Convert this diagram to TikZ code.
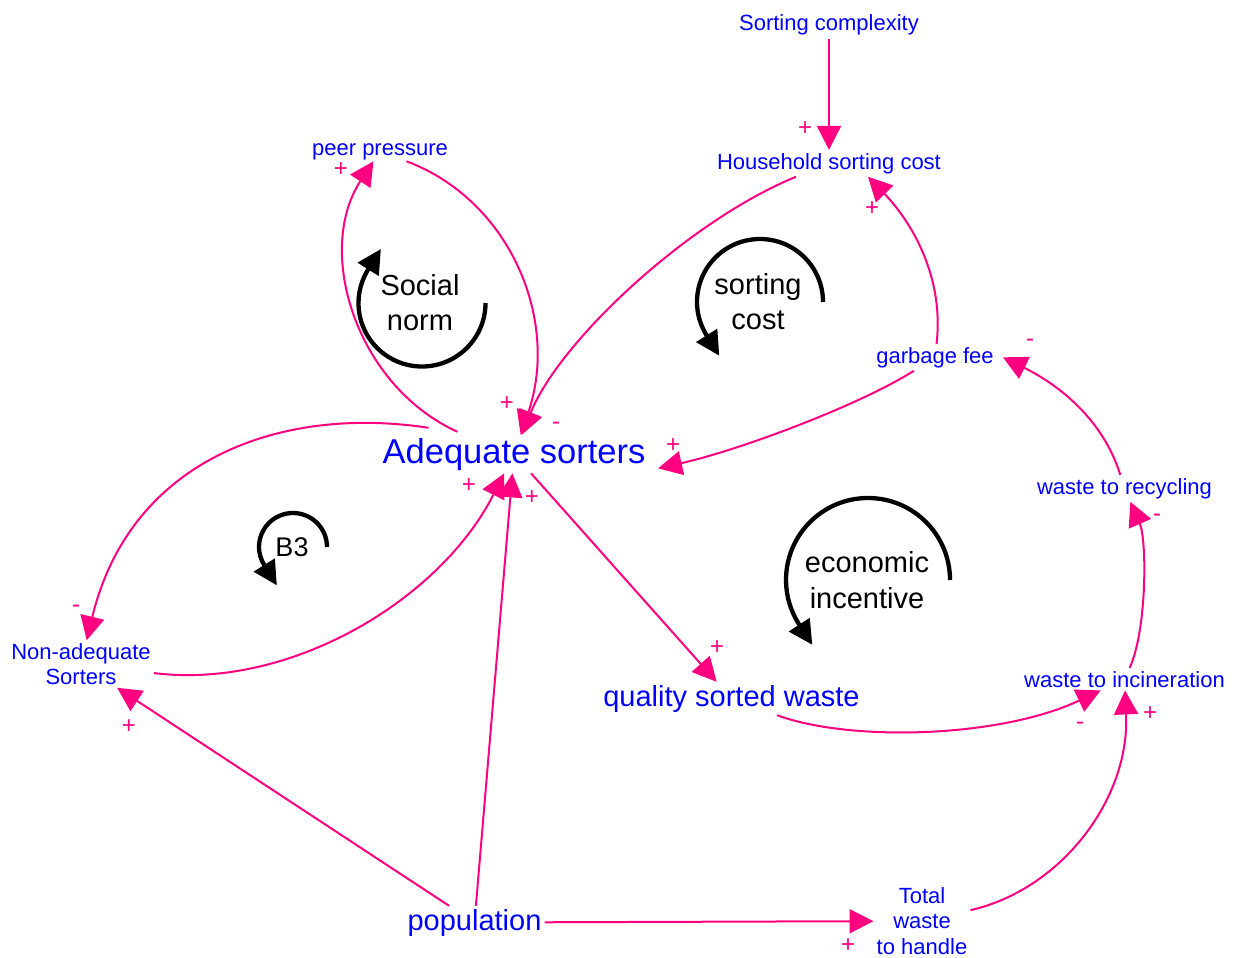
\documentclass[tikz,border=0pt]{standalone}
\usepackage{fontspec}
\setmainfont{Liberation Sans}
\usetikzlibrary{arrows.meta}
\definecolor{varblue}{RGB}{0,0,255}
\definecolor{linkpink}{RGB}{255,0,128}
\begin{document}
\begin{tikzpicture}[x=1pt,y=-1pt,
  var/.style={text=varblue, font=\fontsize{22}{25.5}\selectfont, inner sep=3pt, align=center},
  bigvar/.style={var, font=\fontsize{34.5}{40}\selectfont},
  midvar/.style={var, font=\fontsize{29}{34}\selectfont},
  link/.style={draw=linkpink, line width=2pt, -{Triangle[length=24pt,width=24pt]}},
  pol/.style={text=linkpink, font=\fontsize{24}{28}\selectfont, inner sep=0pt},
  loopar/.style={draw=black, line width=4.3pt, -{Triangle[length=24pt,width=24pt]}, shorten >=-24pt},
  looplab/.style={font=\fontsize{29}{35}\selectfont, align=center, inner sep=0pt}]
\useasboundingbox (0,0) rectangle (1234,958);
% variables
\node[var, anchor=base] (sc) at (829,31) {Sorting complexity};
\node[var, anchor=base] (hsc) at (829,169) {Household sorting cost};
\node[var, anchor=base, inner sep=1.5pt] (pp) at (380,155) {peer pressure};
\node[var, anchor=base] (gf) at (935,363) {garbage fee};
\node[bigvar, anchor=base] (as) at (514,463) {Adequate sorters};
\node[var, anchor=base] (wr) at (1124.5,494) {waste to recycling};
\node[var, anchor=base] (wi) at (1124.5,687) {waste to incineration};
\node[midvar, anchor=base] (qsw) at (731.5,706) {quality sorted waste};
\node[midvar, anchor=base] (pop) at (474.5,930) {population};
\node[var, font=\fontsize{22}{25}\selectfont] (nas) at (81,664) {Non-adequate\\Sorters};
\node[var] (tw) at (922,921) {Total\\waste\\to handle};
% loop labels
\node[looplab] (ln1) at (420,303) {Social\\norm};
\node[looplab] (ln2) at (758,302) {sorting\\cost};
\node[looplab, font=\fontsize{29}{36}\selectfont] (ln3) at (867,580) {economic\\incentive};
\node[looplab, font=\fontsize{27}{32}\selectfont, anchor=base] (ln4) at (292,556) {B3};
% loop arrows
\draw[loopar] (485.5,303) arc[start angle=0, end angle=-212, radius=63.5pt];
\draw[loopar] (823,302) arc[start angle=0, end angle=212, radius=63pt];
\draw[loopar] (950,580) arc[start angle=0, end angle=213, radius=82pt];
\draw[loopar] (327,547) arc[start angle=0, end angle=212, radius=34pt];
% links
\draw[link] (sc) -- (hsc);
\draw[link] (hsc) .. controls (690,220) and (560,340) .. (as);
\draw[link] (pp) .. controls (510,200) and (560,320) .. (as);
\draw[link] ([xshift=78pt,yshift=3pt]as.north west) .. controls (355,385) and (315,250) .. (pp);
\draw[link] (gf) .. controls (945,270) and (905,215) .. ([xshift=39pt]hsc.south);
\draw[link] (gf) .. controls (860,405) and (740,450) .. ([xshift=9.5pt,yshift=5pt]as.south east);
\draw[link] (wr) .. controls (1100,410) and (1045,378) .. ([xshift=6pt]gf.east);
\draw[link] (wi) .. controls (1147,630) and (1147,540) .. (wr);
\draw[link] (qsw) .. controls (850,742) and (1000,738) .. (wi);
\draw[link] (tw) .. controls (1060,890) and (1130,800) .. (wi);
\draw[link] (as) -- (qsw);
\draw[link] ([xshift=49pt,yshift=7pt]as.north west) .. controls (280,405) and (130,460) .. (nas);
\draw[link] (nas) .. controls (290,690) and (440,600) .. (as);
\draw[link] (pop) -- (nas);
\draw[link] (pop) -- (as);
\draw[link] (pop) -- (tw);
% polarities
\node[pol] (p1) at (805,129) {+};
\node[pol] (p2) at (872,209) {+};
\node[pol] (p3) at (341,170) {+};
\node[pol] (p4) at (507,404) {+};
\node[pol] (p5) at (556,426) {-};
\node[pol] (p6) at (673,446) {+};
\node[pol] (p7) at (1030,343) {-};
\node[pol] (p8) at (1157,518) {-};
\node[pol] (p9) at (76,609) {-};
\node[pol] (p10) at (129,727) {+};
\node[pol] (p11) at (469,486) {+};
\node[pol] (p12) at (532,498) {+};
\node[pol] (p13) at (717,648) {+};
\node[pol] (p14) at (1080,726) {-};
\node[pol] (p15) at (1150,714) {+};
\node[pol] (p16) at (848,946) {+};
\end{tikzpicture}
\end{document}
